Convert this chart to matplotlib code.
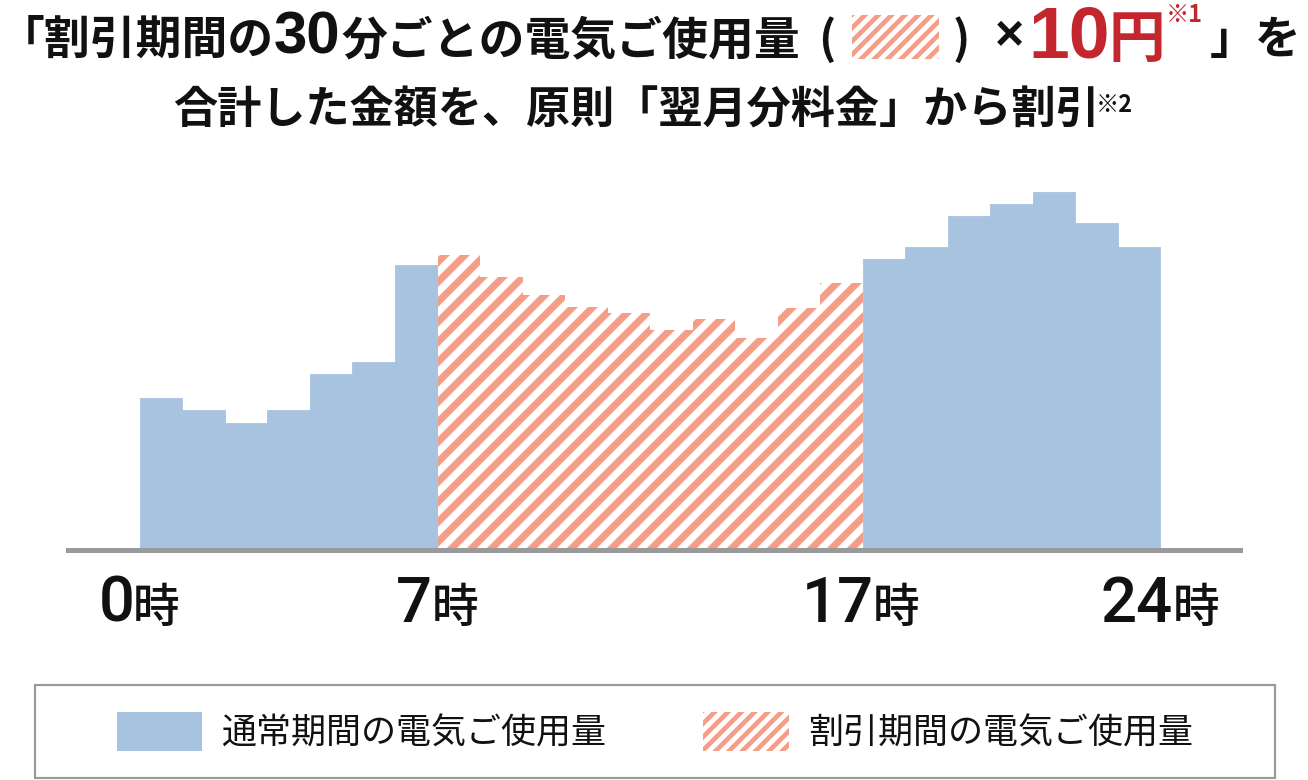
import numpy as np
import matplotlib.pyplot as plt
from matplotlib.patches import Patch, Rectangle
from matplotlib.transforms import IdentityTransform
from matplotlib.textpath import TextPath
from matplotlib.font_manager import FontProperties

# usage per hour (arbitrary units)
hours_am = np.arange(0, 7)
usage_am = [1.52, 1.40, 1.27, 1.40, 1.76, 1.88, 2.85]
hours_discount = np.arange(7, 17)
usage_discount = [2.95, 2.73, 2.55, 2.43, 2.37, 2.20, 2.31, 2.12, 2.42, 2.67]
hours_pm = np.arange(17, 24)
usage_pm = [2.91, 3.03, 3.34, 3.46, 3.58, 3.27, 3.03]

tick_hours = [0, 7, 17, 24]
tick_digits = ['0', '7', '17', '24']
legend_labels = ['通常期間の電気ご使用量', '割引期間の電気ご使用量']

BLUE = '#A8C3E0'
SALMON = '#F49E87'
RED = '#C4262E'
GRAY = '#9A9A9A'
INK = '#111111'
W, H, DPI = 1308, 780, 120

plt.rcParams['hatch.linewidth'] = 4.25
CJK = 'Noto Sans CJK JP'

fig = plt.figure(figsize=(W / DPI, H / DPI), dpi=DPI)
ax = fig.add_axes([68 / W, 1 - 560 / H, 1172 / W, 380 / H])

ax.bar(hours_am, usage_am, width=1, align='edge', color=BLUE, edgecolor=BLUE, lw=0.5)
ax.bar(hours_discount, usage_discount, width=1, align='edge', facecolor='white',
       edgecolor=SALMON, hatch='//', lw=0)
ax.bar(hours_pm, usage_pm, width=1, align='edge', color=BLUE, edgecolor=BLUE, lw=0.5)

ax.set_xlim(-1.694, 25.882)
ax.set_ylim(-0.105, 3.695)
for s in ['top', 'left', 'right']:
    ax.spines[s].set_visible(False)
ax.spines['bottom'].set_position(('data', 0))
ax.spines['bottom'].set_color(GRAY)
ax.spines['bottom'].set_linewidth(3)
ax.set_xticks([])
ax.set_yticks([])


def small_hatch(p):
    # finer stripes for the little swatches
    if hasattr(p, 'set_hatch_linewidth'):
        p.set_hatch_linewidth(2.8)


def ink_span(s, family, weight, size):
    # horizontal ink extent of a string, in pixels from the pen origin
    fp = FontProperties(family=family, weight=weight, size=size)
    ext = TextPath((0, 0), s, size=size, prop=fp).get_extents()
    return ext.x0 * DPI / 72, ext.x1 * DPI / 72


def put(s, x_ink, base_y, family=CJK, weight='bold', size=27.5, color=INK, dy=0):
    # draw s so that its ink starts at x_ink (pixels from left); return ink right edge
    x0, x1 = ink_span(s, family, weight, size)
    fig.text(x_ink - x0, H - base_y + dy, s, transform=IdentityTransform(),
             ha='left', va='baseline', family=family, weight=weight,
             fontsize=size, color=color)
    return x_ink + x1 - x0


def centered(runs, cx, base_y):
    # runs: (text, gap before, options)
    total = sum(g + np.diff(ink_span(s, o.get('family', CJK), o.get('weight', 'bold'),
                                     o.get('size', 27.5)))[0] for s, g, o in runs)
    x = cx - total / 2
    for s, g, o in runs:
        x = put(s, x + g, base_y, **o)


# first title line
x = put('「割引期間の', 28, 54)
x = put('30', x + 5, 54, family='Liberation Sans', size=36)
x = put('分ごとの電気ご使用量', x + 4, 54)
x = put('(', max(822, x + 8), 54)
box = Rectangle((852, H - 59), 87, 44, facecolor='white', edgecolor=SALMON,
                hatch='///', lw=0, transform=IdentityTransform())
small_hatch(box)
fig.add_artist(box)
put(')', 955, 54)
put('×', 997, 50, family='Liberation Sans', size=30)
x = put('10', 1033, 57, family='Liberation Sans', size=44, color=RED)
x = put('円', x + 6, 57, size=34, color=RED)
x = put('※1', x + 8, 54, size=14, color=RED, dy=32)
put('」を', max(1211, x + 6), 54)

# second title line
centered([('合計した金額を、原則「翌月分料金」から割引', 0, dict(size=26.5)),
          ('※2', 5, dict(size=14, dy=12))], 653, 124)

# hour labels under the axis
for h, d in zip(tick_hours, tick_digits):
    cx = ax.transData.transform((h, 0))[0]
    centered([(d, 0, dict(family='Roboto', weight='medium', size=38)),
              ('時', 5, dict(weight='medium', size=28))], cx, 622)

# legend
handles = [Patch(facecolor=BLUE, edgecolor=BLUE, lw=0),
           Patch(facecolor='white', edgecolor=SALMON, hatch='///', lw=0)]
leg = fig.legend(handles, legend_labels, ncol=2, loc='center',
                 bbox_to_anchor=(655 / W, 1 - 731.5 / H), frameon=False,
                 prop=dict(family=CJK, size=21), labelcolor=INK,
                 handlelength=2.43, handleheight=1.34, handletextpad=0.57,
                 columnspacing=2.77)
for p in leg.get_patches():
    small_hatch(p)
fig.add_artist(Rectangle((35 / W, 1 - 778 / H), 1240 / W, 93 / H, transform=fig.transFigure,
                         fill=False, edgecolor=GRAY, lw=1.3))

fig.savefig('out.png', dpi=DPI)
